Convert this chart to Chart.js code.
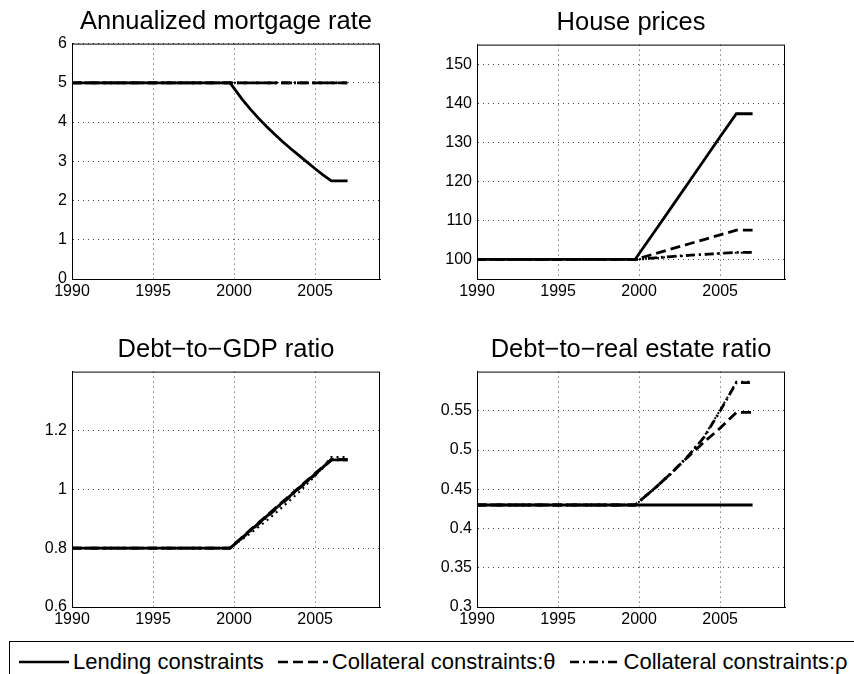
<!DOCTYPE html>
<html>
<head>
<meta charset="utf-8">
<script src="https://cdn.jsdelivr.net/npm/chart.js@4.4.1/dist/chart.umd.min.js"></script>
<style>
  body { margin: 0; background: #fff; width: 854px; height: 674px; overflow: hidden; position: relative; }
  canvas { position: absolute; }
  #legend {
    position: absolute; left: 9px; top: 641px; width: 1000px; height: 40px;
    border: 1px solid #000; background: #fff;
    font-family: "Liberation Sans", Arial, sans-serif; font-size: 22px; color: #000;
    display: flex; align-items: center; white-space: nowrap;
  }
  #legend .item { display: flex; align-items: center; margin-left: 9px; margin-right: 5px; }
  #legend svg { margin-right: 4px; }
</style>
</head>
<body>
<canvas id="c1" width="427" height="310" style="left:0;top:0"></canvas>
<canvas id="c2" width="427" height="310" style="left:427px;top:0"></canvas>
<canvas id="c3" width="427" height="330" style="left:0;top:310px"></canvas>
<canvas id="c4" width="427" height="330" style="left:427px;top:310px"></canvas>
<div id="legend"></div>

<script>
// Data
const years = [1990, 1999.75, 2001, 2002, 2003, 2004, 2005, 2006, 2007];
const rateYears = [1990, 1999.75, 2000.5, 2001, 2001.5, 2002, 2002.5, 2003, 2003.5,
                   2004, 2004.5, 2005, 2005.5, 2006, 2007];
const xTicks = [1990, 1995, 2000, 2005];

const seriesNames = ["Lending constraints", "Collateral constraints:\u03b8", "Collateral constraints:\u03c1"];

// Annualized mortgage rate (on rateYears)
const rateLending = [5, 5, 4.58, 4.33, 4.1, 3.89, 3.69, 3.5, 3.32, 3.15, 2.98, 2.81, 2.65, 2.5, 2.5];
const rateTheta   = [5, 5, 5, 5, 5, 5, 5, 5, 5, 5, 5, 5, 5, 5, 5];
const rateRho     = [5, 5, 5, 5, 5, 5, 5, 5, 5, 5, 5, 5, 5, 5, 5];
const rateOther   = [5, 5, 5, 5, 5, 5, 5, 5, 5, 5, 5, 5, 5, 5, 5];
const rateTicks = [0, 1, 2, 3, 4, 5, 6];

// House prices
const houseLending = [100, 100, 107.4, 113.4, 119.4, 125.4, 131.4, 137.3, 137.3];
const houseTheta   = [100, 100, 101.5, 102.7, 103.9, 105.1, 106.3, 107.5, 107.5];
const houseRho     = [100, 100, 100.4, 100.75, 101.05, 101.3, 101.55, 101.8, 101.8];
const houseOther   = [100, 100, 100.35, 100.7, 101.0, 101.3, 101.55, 101.75, 101.75];
const houseTicks = [100, 110, 120, 130, 140, 150];

// Debt-to-GDP ratio
const gdpLending = [0.8, 0.8, 0.86, 0.908, 0.956, 1.004, 1.052, 1.1, 1.1];
const gdpTheta   = [0.8, 0.8, 0.862, 0.91, 0.958, 1.006, 1.054, 1.102, 1.102];
const gdpRho     = [0.8, 0.8, 0.858, 0.905, 0.953, 1.002, 1.05, 1.1, 1.1];
const gdpOther   = [0.8, 0.8, 0.85, 0.893, 0.94, 0.99, 1.045, 1.11, 1.11];
const gdpTicks = [0.6, 0.8, 1, 1.2];

// Debt-to-real estate ratio
const reLending = [0.43, 0.43, 0.43, 0.43, 0.43, 0.43, 0.43, 0.43, 0.43];
const reTheta   = [0.43, 0.43, 0.452, 0.471, 0.491, 0.51, 0.528, 0.548, 0.548];
const reRho     = [0.43, 0.43, 0.452, 0.471, 0.492, 0.516, 0.55, 0.586, 0.586];
const reOther   = [0.43, 0.43, 0.451, 0.47, 0.492, 0.517, 0.551, 0.587, 0.587];
const reTicks = [0.3, 0.35, 0.4, 0.45, 0.5, 0.55];

// line styles: solid, dashed, dash-dot, dotted
const dashes = [[], [10, 5], [9, 4, 2, 4], [2, 4]];
const widths = [2.8, 2.8, 2.8, 2];

const FONT = "'Liberation Sans', Arial, sans-serif";

// box round the plot area
const boxPlugin = {
    id: 'box',
    afterDraw(chart) {
        const a = chart.chartArea;
        const ctx = chart.ctx;
        ctx.save();
        ctx.strokeStyle = '#000';
        ctx.lineWidth = 1;
        ctx.strokeRect(a.left + 0.5, a.top + 0.5, a.right - a.left - 1, a.bottom - a.top);
        ctx.restore();
    }
};

function points(xs, ys) {
    return xs.map((x, i) => ({ x: x, y: ys[i] }));
}

function makeChart(id, title, xs, lists, yMin, yMax, yTicks, area) {
    // area = [left, top, right, bottom] of the plot box in canvas pixels
    const canvas = document.getElementById(id);
    const W = canvas.width, H = canvas.height;
    const xAxisH = 26;

    return new Chart(canvas.getContext('2d'), {
        type: 'line',
        data: {
            datasets: lists.map((ys, i) => ({
                data: points(xs, ys),
                borderColor: '#000',
                borderWidth: widths[i],
                borderDash: dashes[i],
                pointRadius: 0,
                tension: 0,
                fill: false
            }))
        },
        options: {
            responsive: false,
            animation: false,
            layout: {
                padding: { left: 0, top: 0, right: W - area[2], bottom: H - area[3] - xAxisH }
            },
            plugins: {
                legend: { display: false },
                tooltip: { enabled: false },
                title: {
                    display: true,
                    text: title,
                    fullSize: false,
                    color: '#000',
                    font: { family: FONT, size: 25.5, weight: 'normal', lineHeight: 1.2 },
                    padding: { top: area[1] - 37, bottom: 6 }
                }
            },
            scales: {
                x: {
                    type: 'linear',
                    min: 1990,
                    max: 2009,
                    afterBuildTicks: s => { s.ticks = xTicks.map(v => ({ value: v })); },
                    afterFit: s => { s.height = xAxisH; },
                    ticks: {
                        color: '#000',
                        padding: 3,
                        maxRotation: 0,
                        font: { family: FONT, size: 16 },
                        callback: v => String(v)
                    },
                    grid: { color: '#444', lineWidth: 1, drawTicks: false },
                    border: { color: '#000', dash: [1, 4] }
                },
                y: {
                    type: 'linear',
                    min: yMin,
                    max: yMax,
                    afterBuildTicks: s => { s.ticks = yTicks.map(v => ({ value: v })); },
                    afterFit: s => { s.width = area[0]; },
                    ticks: {
                        color: '#000',
                        padding: 5,
                        font: { family: FONT, size: 16 },
                        callback: v => String(v)
                    },
                    grid: { color: '#444', lineWidth: 1, drawTicks: false },
                    border: { color: '#000', dash: [1, 4] }
                }
            }
        },
        plugins: [boxPlugin]
    });
}

makeChart('c1', 'Annualized mortgage rate', rateYears,
    [rateLending, rateTheta, rateRho, rateOther], 0, 6, rateTicks, [72, 44, 380, 279]);
makeChart('c2', 'House prices', years,
    [houseLending, houseTheta, houseRho, houseOther], 95, 155, houseTicks, [50, 45, 358, 279]);
makeChart('c3', 'Debt\u2212to\u2212GDP ratio', years,
    [gdpLending, gdpTheta, gdpRho, gdpOther], 0.6, 1.4, gdpTicks, [72, 62, 380, 297]);
makeChart('c4', 'Debt\u2212to\u2212real estate ratio', years,
    [reLending, reTheta, reRho, reOther], 0.3, 0.6, reTicks, [50, 62, 358, 297]);

// Legend
const legend = document.getElementById("legend");
seriesNames.forEach((name, i) => {
    const item = document.createElement("div");
    item.className = "item";
    const dash = dashes[i].join(" ");
    item.innerHTML =
        '<svg width="50" height="10"><line x1="0" y1="5" x2="50" y2="5" stroke="#000" stroke-width="2.5"' +
        (dash ? ' stroke-dasharray="' + dash + '"' : '') + '/></svg>' +
        '<span>' + name + '</span>';
    legend.appendChild(item);
});
</script>
</body>
</html>
